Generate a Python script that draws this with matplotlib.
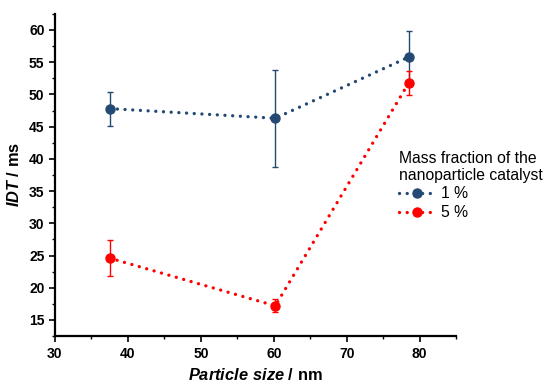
import matplotlib
matplotlib.use("Agg")
import matplotlib.pyplot as plt
from matplotlib.ticker import MultipleLocator

plt.rcParams['font.family'] = ['Liberation Sans', 'DejaVu Sans']
plt.rcParams['mathtext.fontset'] = 'custom'
plt.rcParams['mathtext.bfit'] = 'Liberation Sans:italic:bold'
plt.rcParams['mathtext.rm'] = 'Liberation Sans'

# Data
particle_size = [37.5, 60.2, 78.5]
idt_1pct = [47.8, 46.3, 55.8]
err_1pct = [2.65, 7.5, 4.0]
idt_5pct = [24.6, 17.2, 51.8]
err_5pct = [2.8, 1.0, 1.9]
series_labels = ['1 %', '5 %']
legend_title = 'Mass fraction of the\nnanoparticle catalyst'
x_ticks = [30, 40, 50, 60, 70, 80]
y_ticks = [15, 20, 25, 30, 35, 40, 45, 50, 55, 60]

blue = '#244A73'
red = '#FF0000'

fig = plt.figure(figsize=(5.55, 3.85), dpi=100)
ax = fig.add_axes([0.099, 0.127, 0.723, 0.837])

dot_style = (0, (0.01, 2.3))
handles = []
for y, e, c, lab in [(idt_1pct, err_1pct, blue, series_labels[0]),
                     (idt_5pct, err_5pct, red, series_labels[1])]:
    cont = ax.errorbar(particle_size, y, yerr=e, color=c, ecolor=c,
                       elinewidth=1.0, capsize=2.5, capthick=1.0, marker='o',
                       markersize=6.5, linestyle=dot_style, linewidth=2.4,
                       dash_capstyle='round', label=lab)
    handles.append(cont.lines[0])

ax.set_xlim(30, 85)
ax.set_ylim(12.5, 62.5)
ax.set_xticks(x_ticks)
ax.set_yticks(y_ticks)
ax.xaxis.set_minor_locator(MultipleLocator(5))
ax.yaxis.set_minor_locator(MultipleLocator(2.5))

for s in ['top', 'right']:
    ax.spines[s].set_visible(False)
for s in ['left', 'bottom']:
    ax.spines[s].set_linewidth(1.6)
ax.tick_params(which='major', direction='out', length=4, width=1.2,
               labelsize=10)
ax.tick_params(which='minor', direction='out', length=2, width=1.0)
for t in ax.get_xticklabels() + ax.get_yticklabels():
    t.set_fontweight('bold')

ax.set_xlabel(r'$\mathbfit{Particle\ size}$ / nm', fontsize=11.8,
              fontweight='bold', labelpad=5)
ax.set_ylabel(r'$\mathbfit{IDT}$ / ms', fontsize=11.8, fontweight='bold',
              labelpad=5)

leg = ax.legend(handles, series_labels, title=legend_title, loc='upper left',
                bbox_to_anchor=(0.700, 0.637), bbox_transform=fig.transFigure,
                frameon=False, fontsize=11.3, title_fontsize=11.3,
                handlelength=2.2, handletextpad=0.45, labelspacing=0.25,
                borderpad=0.2, alignment='left')
leg.get_title().set_linespacing(1.15)

fig.savefig('out.png', dpi=100)
